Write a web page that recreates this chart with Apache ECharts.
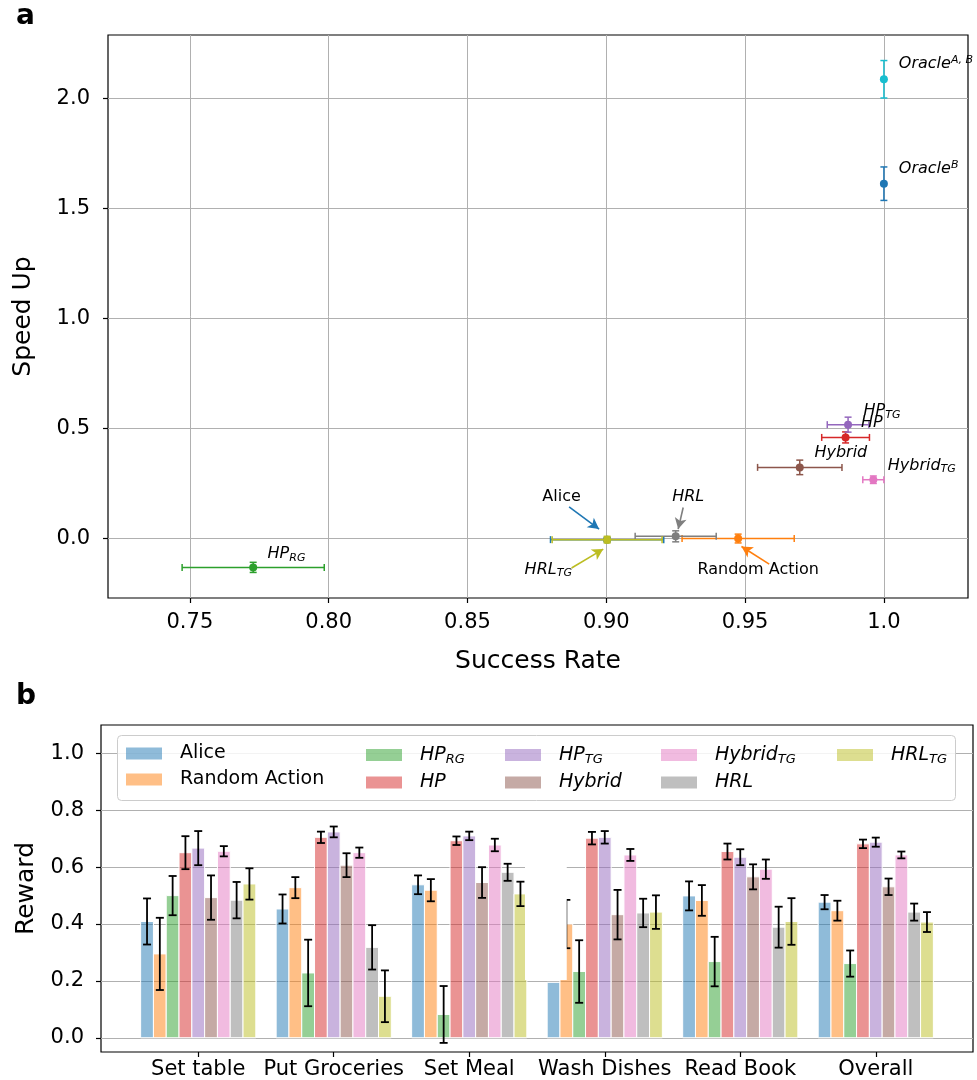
<!DOCTYPE html>
<html><head><meta charset="utf-8">
<script src="https://cdn.jsdelivr.net/npm/echarts@6/dist/echarts.min.js"></script>
<style>html,body{margin:0;padding:0;background:#fff}#c{width:977px;height:1080px}</style>
</head><body><div id="c"></div>
<script>
// ---------- panel a data ----------
const aNames       = ['Alice','Random Action','HP_RG','HP','HP_TG','Hybrid','Hybrid_TG','HRL','HRL_TG','Oracle^B','Oracle^AB'];
const aSuccess     = [0.9003,0.9475,0.7728,0.9862,0.9871,0.9697,0.9962,0.9250,0.9003,1.0,1.0];
const aSuccessErr  = [0.0204,0.0202,0.0256,0.0086,0.0075,0.0152,0.0038,0.0146,0.0198,0,0];
const aSpeedUp     = [-0.004,0.001,-0.130,0.460,0.518,0.324,0.268,0.011,-0.004,1.612,2.086];
const aSpeedUpErr  = [0.010,0.020,0.023,0.025,0.034,0.033,0.017,0.025,0.015,0.076,0.085];
const aXTicks      = [0.75,0.80,0.85,0.90,0.95,1.0];
const aXTickLabels = ['0.75','0.80','0.85','0.90','0.95','1.0'];
const aYTicks      = [0.0,0.5,1.0,1.5,2.0];
const aYTickLabels = ['0.0','0.5','1.0','1.5','2.0'];
// annotation anchors (data coords): name, x, y, anchor
const aLabelNames  = ['Alice','HRL','HRL_TG','Random Action','HP_RG','Oracle^AB','Oracle^B','HP_TG','HP','Hybrid','Hybrid_TG'];
const aLabelX      = [0.8839,0.9295,0.8791,0.9547,0.7848,1.0052,1.0052,0.9925,0.9916,0.9748,1.0012];
const aLabelY      = [0.188,0.188,-0.142,-0.142,-0.070,2.155,1.680,0.579,0.526,0.392,0.332];
const aLabelAnchor = ['c','c','c','c','c','l','l','l','l','l','l'];
// arrows (data coords): from -> to
const aArrowFor    = ['Alice','HRL','HRL_TG','Random Action'];
const aArrowFrom   = [[0.8866,0.145],[0.9277,0.142],[0.8875,-0.133],[0.9587,-0.115]];
const aArrowTo     = [[0.8974,0.044],[0.9259,0.044],[0.8989,-0.047],[0.9487,-0.035]];

// ---------- panel b data ----------
const methods = ['Alice','Random Action','HP_RG','HP','HP_TG','Hybrid','Hybrid_TG','HRL','HRL_TG'];
const tasks   = ['Set table','Put Groceries','Set Meal','Wash Dishes','Read Book','Overall'];
const rAlice     = [0.409,0.453,0.538,0.195,0.499,0.477];
const eAlice     = [0.081,0.051,0.033,null,0.051,0.025];
const rRandom    = [0.295,0.528,0.519,0.400,0.483,0.447];
const eRandom    = [0.127,0.037,0.039,0.085,0.054,0.035];
const rHPRG      = [0.500,0.228,0.082,0.233,0.268,0.261];
const eHPRG      = [0.069,0.117,0.100,0.110,0.087,0.046];
const rHP        = [0.651,0.705,0.693,0.702,0.655,0.682];
const eHP        = [0.058,0.020,0.015,0.022,0.028,0.015];
const rHPTG      = [0.667,0.724,0.710,0.705,0.635,0.688];
const eHPTG      = [0.060,0.019,0.015,0.022,0.028,0.016];
const rHybrid    = [0.493,0.607,0.546,0.433,0.566,0.531];
const eHybrid    = [0.078,0.042,0.054,0.087,0.044,0.029];
const rHybridTG  = [0.656,0.651,0.678,0.643,0.593,0.643];
const eHybridTG  = [0.018,0.018,0.022,0.021,0.034,0.012];
const rHRL       = [0.484,0.318,0.582,0.439,0.389,0.442];
const eHRL       = [0.064,0.078,0.030,0.050,0.072,0.030];
const rHRLTG     = [0.541,0.146,0.506,0.442,0.409,0.407];
const eHRLTG     = [0.055,0.091,0.043,0.059,0.082,0.035];
const bValues = [rAlice,rRandom,rHPRG,rHP,rHPTG,rHybrid,rHybridTG,rHRL,rHRLTG];
const bErrors = [eAlice,eRandom,eHPRG,eHP,eHPTG,eHybrid,eHybridTG,eHRL,eHRLTG];
const bYTicks = [0.0,0.2,0.4,0.6,0.8,1.0];
const bYTickLabels = ['0.0','0.2','0.4','0.6','0.8','1.0'];
// white patch present in the source image (data coords: x0, y0, x1, y1)
const bMask = [2.4115,0.203,2.7195,0.70];

// ---------- styles ----------
const FONT = 'DejaVu Sans';
const colorOf = {
  'Alice':'#1f77b4','Random Action':'#ff7f0e','HP_RG':'#2ca02c','HP':'#d62728','HP_TG':'#9467bd',
  'Hybrid':'#8c564b','Hybrid_TG':'#e377c2','HRL':'#7f7f7f','HRL_TG':'#bcbd22',
  'Oracle^B':'#1f77b4','Oracle^AB':'#17becf'
};
function hexA(h,a){const n=parseInt(h.slice(1),16);return `rgba(${n>>16},${(n>>8)&255},${n&255},${a})`;}
function rich(name){
  const map = {
    'Alice':'{n|Alice}','Random Action':'{n|Random Action}','HP_RG':'{i|HP}{sub|RG}','HP':'{i|HP}',
    'HP_TG':'{i|HP}{sub|TG}','Hybrid':'{i|Hybrid}','Hybrid_TG':'{i|Hybrid}{sub|TG}','HRL':'{i|HRL}',
    'HRL_TG':'{i|HRL}{sub|TG}','Oracle^B':'{i|Oracle}{sup|B}','Oracle^AB':'{i|Oracle}{sup|A, B}'
  };
  return map[name];
}
function richStyles(fs){
  const s = Math.round(fs*0.7);
  return {
    n:{fontFamily:FONT,fontSize:fs,color:'#000',lineHeight:fs+2,verticalAlign:'middle'},
    i:{fontFamily:FONT,fontSize:fs,fontStyle:'italic',color:'#000',lineHeight:fs+2,verticalAlign:'middle'},
    sub:{fontFamily:FONT,fontSize:s,fontStyle:'italic',color:'#000',padding:[Math.round(fs*0.45),0,0,0],verticalAlign:'middle',lineHeight:s},
    sup:{fontFamily:FONT,fontSize:s,fontStyle:'italic',color:'#000',padding:[0,0,Math.round(fs*0.5),0],verticalAlign:'middle',lineHeight:s},
    gap:{width:13}
  };
}
function nearestLabel(v, ticks, labels){let b=0;for(let k=1;k<ticks.length;k++){if(Math.abs(ticks[k]-v)<Math.abs(ticks[b]-v))b=k;}return labels[b];}

const BAR_W = 0.85/9;

// ---------- panel a series ----------
const aData = aNames.map((n,k)=>[aSuccess[k],aSpeedUp[k],aSuccessErr[k],aSpeedUpErr[k]]);
const errSeries = {
  type:'custom', xAxisIndex:0, yAxisIndex:0, name:'a-points', data:aData, z:5,
  renderItem:(params, api)=>{
    const k = params.dataIndex, col = colorOf[aNames[k]];
    const x=api.value(0), y=api.value(1), ex=api.value(2), ey=api.value(3);
    const c = api.coord([x,y]);
    const ch = [];
    const cap = 3.5, lw = 1.5;
    if (ex>0){
      const l=api.coord([x-ex,y]), r=api.coord([x+ex,y]);
      ch.push({type:'line',shape:{x1:l[0],y1:l[1],x2:r[0],y2:r[1]},style:{stroke:col,lineWidth:lw}});
      ch.push({type:'line',shape:{x1:l[0],y1:l[1]-cap,x2:l[0],y2:l[1]+cap},style:{stroke:col,lineWidth:lw}});
      ch.push({type:'line',shape:{x1:r[0],y1:r[1]-cap,x2:r[0],y2:r[1]+cap},style:{stroke:col,lineWidth:lw}});
    }
    if (ey>0){
      const t=api.coord([x,y+ey]), b=api.coord([x,y-ey]);
      ch.push({type:'line',shape:{x1:t[0],y1:t[1],x2:b[0],y2:b[1]},style:{stroke:col,lineWidth:lw}});
      ch.push({type:'line',shape:{x1:t[0]-cap,y1:t[1],x2:t[0]+cap,y2:t[1]},style:{stroke:col,lineWidth:lw}});
      ch.push({type:'line',shape:{x1:b[0]-cap,y1:b[1],x2:b[0]+cap,y2:b[1]},style:{stroke:col,lineWidth:lw}});
    }
    ch.push({type:'circle',shape:{cx:c[0],cy:c[1],r:4},style:{fill:col}});
    return {type:'group',children:ch};
  }
};
const labelSeries = {
  type:'scatter', xAxisIndex:0, yAxisIndex:0, name:'a-labels', symbolSize:1, z:6,
  itemStyle:{color:'rgba(0,0,0,0)'}, silent:true,
  data: aLabelNames.map((n,k)=>({
    value:[aLabelX[k],aLabelY[k]],
    label:{show:true, position: aLabelAnchor[k]==='c'?'inside':'right', distance:0,
      color:'#000', opacity:1, textBorderWidth:0,
      formatter: rich(n), rich: richStyles(16)}
  })),
  markLine:{
    silent:true, symbol:['none','arrow'], symbolSize:[9,11], animation:false,
    label:{show:false},
    data: aArrowFor.map((n,k)=>[
      {coord:aArrowFrom[k], lineStyle:{color:colorOf[n],width:1.6,type:'solid'}},
      {coord:aArrowTo[k]}
    ])
  }
};

// ---------- panel b series ----------
const barSeries = methods.map((m,mi)=>({
  type:'custom', name:m, xAxisIndex:1, yAxisIndex:1,
  itemStyle:{color:hexA(colorOf[m],0.5)},
  data: tasks.map((t,ti)=>[ti, bValues[mi][ti], bErrors[mi][ti]==null?'-':bErrors[mi][ti]]),
  encode:{x:0,y:1},
  renderItem:(params, api)=>{
    const c = api.value(0) + (mi-4)*BAR_W;
    const v = api.value(1), e = api.value(2);
    const p0 = api.coord([c-BAR_W/2,0]), p1 = api.coord([c+BAR_W/2,v]);
    const ch = [{type:'rect',shape:{x:p0[0],y:p1[1],width:p1[0]-p0[0],height:p0[1]-p1[1]},
      style:{fill:api.visual('color'),stroke:'#fff',lineWidth:1}}];
    if (!isNaN(e)){
      const t = api.coord([c,v+e]), b = api.coord([c,v-e]), cap=4, lw=1.8;
      ch.push({type:'line',shape:{x1:t[0],y1:t[1],x2:b[0],y2:b[1]},style:{stroke:'#000',lineWidth:lw}});
      ch.push({type:'line',shape:{x1:t[0]-cap,y1:t[1],x2:t[0]+cap,y2:t[1]},style:{stroke:'#000',lineWidth:lw}});
      ch.push({type:'line',shape:{x1:b[0]-cap,y1:b[1],x2:b[0]+cap,y2:b[1]},style:{stroke:'#000',lineWidth:lw}});
    }
    return {type:'group',children:ch};
  }
}));
const maskSeries = {
  type:'custom', name:'mask', xAxisIndex:1, yAxisIndex:1, z:4, silent:true,
  data:[bMask],
  renderItem:(params, api)=>{
    const a = api.coord([api.value(0),api.value(1)]), b = api.coord([api.value(2),api.value(3)]);
    return {type:'rect',shape:{x:a[0],y:b[1],width:b[0]-a[0],height:a[1]-b[1]},style:{fill:'#fff'}};
  }
};

// ---------- legend (5 columns, column-major) ----------
const legendCols = [['Alice','Random Action'],['HP_RG','HP'],['HP_TG','Hybrid'],['Hybrid_TG','HRL'],['HRL_TG']];
const legendLeft = [126,366,505,661,837];
const legends = legendCols.map((col,k)=>({
  data: col.map(n=>({name:n, icon:'rect'})),
  orient:'vertical', left:legendLeft[k], top:744, itemWidth:36, itemHeight:12, itemGap:7,
  selectedMode:false, padding:0, z:6,
  formatter: n=>'{gap|}'+rich(n),
  textStyle:{rich:richStyles(19), fontSize:19, fontFamily:FONT}
}));

const axisTxt = {color:'#000', fontFamily:FONT, fontSize:21};
const option = {
  animation:false,
  backgroundColor:'#fff',
  grid:[
    {left:108, top:35, width:860, height:563, show:true, borderColor:'#000', borderWidth:1.2},
    {left:101, top:725, width:872, height:328, show:true, borderColor:'#000', borderWidth:1.2}
  ],
  legend: legends,
  xAxis:[
    {gridIndex:0, type:'value', min:0.7205, max:1.0303,
      axisLine:{show:false,onZero:false},
      axisTick:{show:true,customValues:aXTicks,length:5,lineStyle:{color:'#000',width:1.2}},
      axisLabel:{customValues:aXTicks, formatter:v=>nearestLabel(v,aXTicks,aXTickLabels), margin:14, ...axisTxt},
      splitLine:{show:true,lineStyle:{color:'#b0b0b0',width:1}},
      name:'Success Rate', nameLocation:'middle', nameGap:51,
      nameTextStyle:{color:'#000',fontFamily:FONT,fontSize:25}},
    {gridIndex:1, type:'value', min:-0.7175, max:5.7175,
      axisLine:{show:false,onZero:false},
      axisTick:{show:true,customValues:[0,1,2,3,4,5],length:5,lineStyle:{color:'#000',width:1.2}},
      axisLabel:{customValues:[0,1,2,3,4,5], formatter:v=>tasks[Math.round(v)], margin:7, ...axisTxt},
      splitLine:{show:false}}
  ],
  yAxis:[
    {gridIndex:0, type:'value', min:-0.269, max:2.287,
      axisLine:{show:false,onZero:false},
      axisTick:{show:true,customValues:aYTicks,length:5,lineStyle:{color:'#000',width:1.2}},
      axisLabel:{customValues:aYTicks, formatter:v=>nearestLabel(v,aYTicks,aYTickLabels), margin:18, ...axisTxt},
      splitLine:{show:true,lineStyle:{color:'#b0b0b0',width:1}},
      name:'Speed Up', nameLocation:'middle', nameGap:72,
      nameTextStyle:{color:'#000',fontFamily:FONT,fontSize:25}},
    {gridIndex:1, type:'value', min:-0.05, max:1.1,
      axisLine:{show:false,onZero:false},
      axisTick:{show:true,customValues:bYTicks,length:5,lineStyle:{color:'#000',width:1.2}},
      axisLabel:{customValues:bYTicks, formatter:v=>nearestLabel(v,bYTicks,bYTickLabels), margin:17, ...axisTxt},
      splitLine:{show:true,lineStyle:{color:'#b0b0b0',width:1}},
      name:'Reward', nameLocation:'middle', nameGap:62,
      nameTextStyle:{color:'#000',fontFamily:FONT,fontSize:25}}
  ],
  graphic:[
    {type:'text', left:16, top:3, style:{text:'a', font:'bold 28px "DejaVu Sans"', fill:'#000'}},
    {type:'text', left:16, top:683, style:{text:'b', font:'bold 28px "DejaVu Sans"', fill:'#000'}},
    {type:'rect', left:117, top:735, shape:{width:838, height:65, r:4}, z:3,
      style:{fill:'rgba(255,255,255,0.85)', stroke:'#cccccc', lineWidth:1}}
  ],
  series:[errSeries, labelSeries, ...barSeries, maskSeries]
};
const chart = echarts.init(document.getElementById('c'), null, {renderer:'canvas'});
chart.setOption(option);
</script>
</body></html>
